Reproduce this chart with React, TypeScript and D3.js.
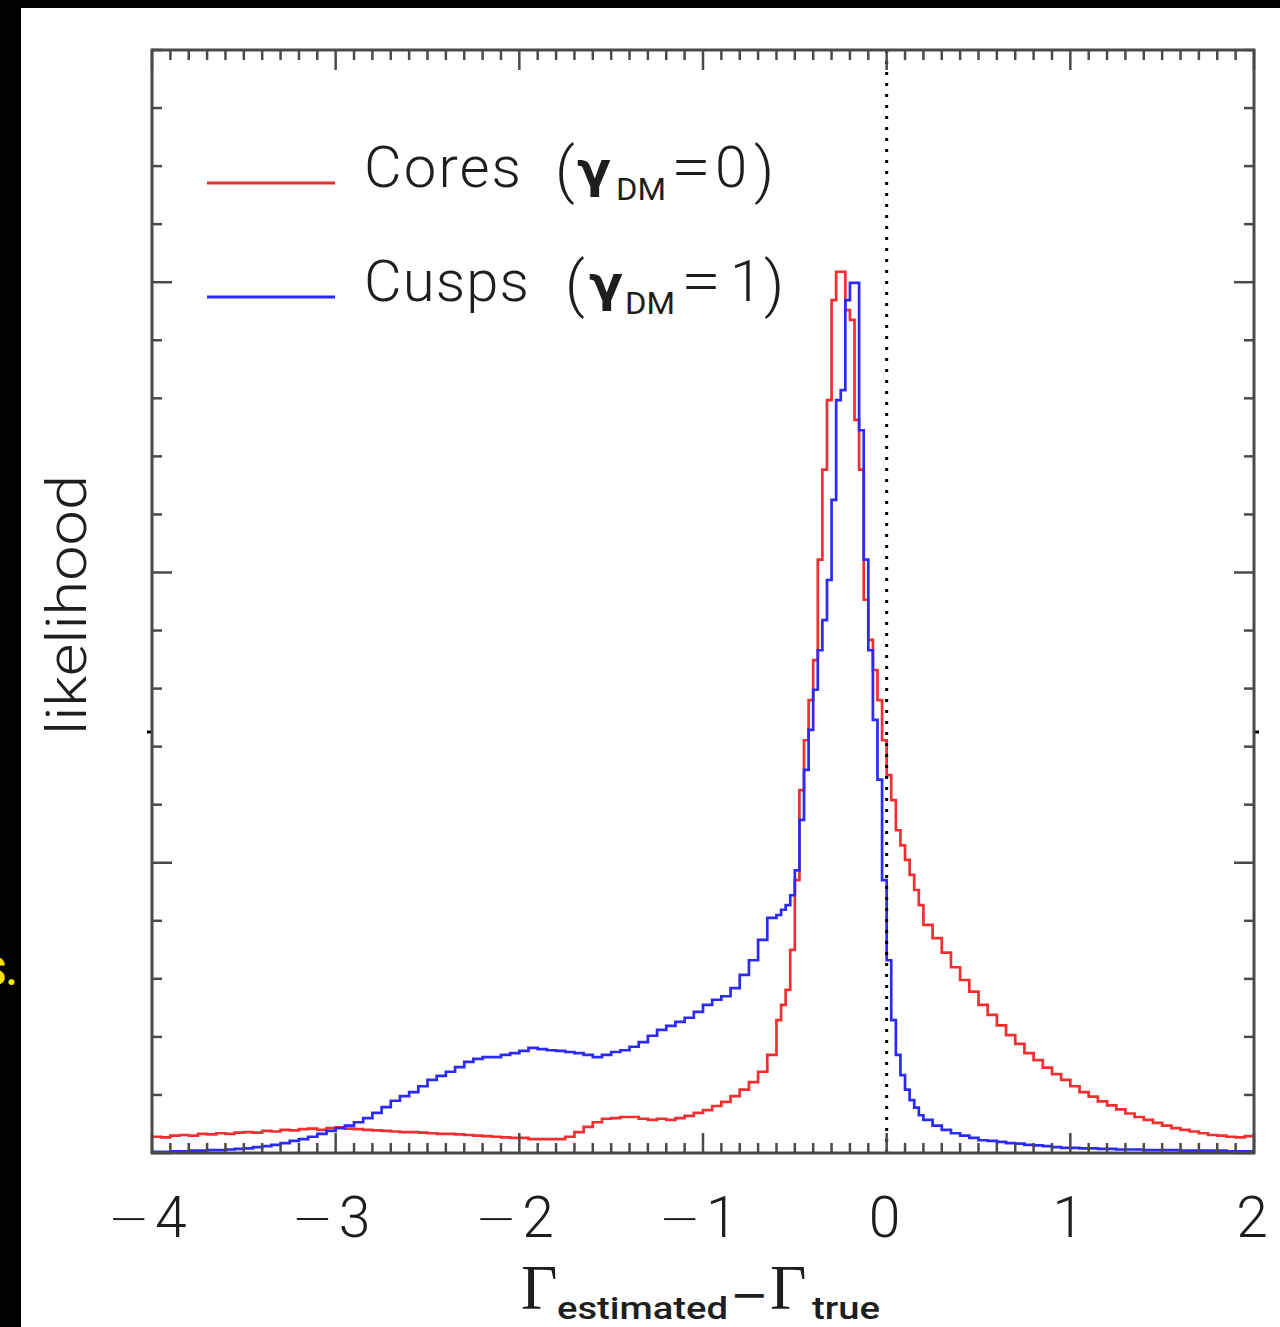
import React from 'react';
import * as d3 from 'd3';

// ---------- data ----------
const X_TICKS = [-4, -3, -2, -1, 0, 1, 2];
const X_TICK_LABELS = ['−4', '−3', '−2', '−1', '0', '1', '2'];
const Y_MAJOR = [0, 5, 10, 15];

// histogram bins: 0.05 wide on [-4,-0.6), 0.025 wide on [-0.6,0.2), 0.05 wide on [0.2,2)
const coresLeft = [
  0.28, 0.27, 0.30, 0.31, 0.30, 0.33, 0.32, 0.34, 0.33, 0.35,
  0.36, 0.35, 0.38, 0.37, 0.40, 0.39, 0.41, 0.42, 0.40, 0.43,
  0.44, 0.42, 0.41, 0.40, 0.39, 0.38, 0.37, 0.36, 0.36, 0.35,
  0.34, 0.33, 0.33, 0.32, 0.31, 0.30, 0.29, 0.28, 0.27, 0.26,
  0.26, 0.24, 0.24, 0.24, 0.24, 0.28, 0.36, 0.45, 0.53, 0.59,
  0.60, 0.62, 0.62, 0.59, 0.57, 0.59, 0.57, 0.60, 0.64, 0.69,
  0.74, 0.81, 0.88, 0.98, 1.09, 1.22, 1.40, 1.69,
];
const coresPeak = [
  2.29, 2.55, 2.81, 3.50, 4.70, 6.25, 7.11, 7.80, 8.49, 10.22,
  11.77, 12.97, 14.69, 15.18, 15.18, 14.52, 14.35, 12.63, 11.77, 9.53,
  8.84, 8.32, 7.80, 7.11, 6.51, 6.08, 5.56, 5.30, 5.05, 4.79,
  4.53, 4.27,
];
const coresRight = [
  3.93, 3.70, 3.45, 3.20, 2.98, 2.78, 2.55, 2.38, 2.20, 2.03,
  1.88, 1.72, 1.60, 1.47, 1.36, 1.26, 1.15, 1.05, 0.97, 0.89,
  0.82, 0.75, 0.68, 0.62, 0.57, 0.52, 0.47, 0.43, 0.40, 0.37,
  0.34, 0.31, 0.30, 0.28, 0.27, 0.29,
];

const cuspsLeft = [
  0.02, 0.02, 0.03, 0.03, 0.04, 0.04, 0.05, 0.05, 0.06, 0.07,
  0.08, 0.10, 0.12, 0.14, 0.17, 0.21, 0.24, 0.28, 0.33, 0.38,
  0.43, 0.47, 0.53, 0.60, 0.69, 0.79, 0.90, 0.98, 1.05, 1.15,
  1.26, 1.33, 1.40, 1.48, 1.57, 1.62, 1.65, 1.65, 1.69, 1.72,
  1.76, 1.81, 1.79, 1.77, 1.76, 1.74, 1.72, 1.69, 1.65, 1.69,
  1.74, 1.77, 1.83, 1.91, 2.02, 2.12, 2.19, 2.26, 2.33, 2.43,
  2.55, 2.64, 2.70, 2.84, 3.07, 3.32, 3.67, 4.05,
];
const cuspsPeak = [
  4.10, 4.19, 4.27, 4.44, 4.87, 5.74, 6.60, 7.29, 7.98, 8.66,
  9.18, 9.87, 11.25, 12.97, 13.14, 14.69, 14.99, 14.99, 12.45, 10.22,
  8.66, 7.46, 6.43, 4.70, 3.32, 2.29, 1.69, 1.34, 1.09, 0.91,
  0.78, 0.65,
];
const cuspsRight = [
  0.57, 0.47, 0.40, 0.34, 0.30, 0.26, 0.22, 0.21, 0.19, 0.17,
  0.16, 0.14, 0.13, 0.12, 0.10, 0.09, 0.09, 0.08, 0.08, 0.07,
  0.07, 0.06, 0.06, 0.06, 0.05, 0.05, 0.05, 0.05, 0.04, 0.04,
  0.04, 0.04, 0.04, 0.03, 0.03, 0.03,
];

const LEGEND = [
  { name: 'Cores', val: '0', color: '#f03030' },
  { name: 'Cusps', val: '1', color: '#2b2bf5' },
];

// ---------- layout ----------
const W = 1280;
const H = 1327;
const L = 152, R = 1254, T = 50, B = 1153;

const binLefts = [
  ...d3.range(68).map((i) => -4 + i * 0.05),
  ...d3.range(32).map((j) => -0.6 + j * 0.025),
  ...d3.range(36).map((k) => 0.2 + k * 0.05),
];

function toPoints(vals: number[]): [number, number][] {
  const pts: [number, number][] = vals.map((v, i) => [binLefts[i], v]);
  pts.push([2, vals[vals.length - 1]]);
  return pts;
}

// legend glyph positions (pixels) per entry
const LEGEND_POS = [
  { ly: 183, by: 187, nameLen: 157, paren: 555, gam: 577, dm: 616, eq: 671, val: 715, close: 754 },
  { ly: 297, by: 301, nameLen: 165, paren: 565, gam: 589, dm: 625, eq: 681, val: 730, close: 764 },
];

export default function App() {
  const x = d3.scaleLinear().domain([-4, 2]).range([L, R]);
  const y = d3.scaleLinear().domain([0, 19]).range([B, T]);
  const line = d3
    .line<[number, number]>()
    .x((d) => x(d[0]))
    .y((d) => y(d[1]))
    .curve(d3.curveStepAfter);

  const cores = toPoints([...coresLeft, ...coresPeak, ...coresRight]);
  const cusps = toPoints([...cuspsLeft, ...cuspsPeak, ...cuspsRight]);

  const xMinor = d3.range(-40, 21).map((i) => i / 10).filter((v) => Math.abs(v - Math.round(v)) > 1e-6);
  const yMinor = d3.range(0, 20).filter((v) => !Y_MAJOR.includes(v));

  const axisColor = '#4a4a4a';
  const textColor = '#1e1e1e';
  const sans = 'Roboto, "Liberation Sans", sans-serif';
  const minusFont = '"DejaVu Sans", sans-serif';
  const serif = '"Liberation Serif", "DejaVu Serif", serif';

  return (
    <svg
      width={W}
      height={H}
      style={{ position: 'absolute', left: 0, top: 0, display: 'block', background: '#fff' }}
    >
      <rect x={0} y={0} width={W} height={H} fill="#fff" />
      {/* black borders of the screenshot */}
      <rect x={0} y={0} width={W} height={8} fill="#000" />
      <rect x={0} y={0} width={21} height={H} fill="#000" />
      <text x={17} y={985} fill="#f2e600" fontFamily={sans} fontSize={38} textAnchor="end" fontWeight={700}>
        S.
      </text>

      {/* data */}
      <path d={line(cores) || ''} fill="none" stroke="#f03030" strokeWidth={2.7} strokeLinejoin="miter" />
      <path d={line(cusps) || ''} fill="none" stroke="#2b2bf5" strokeWidth={2.7} strokeLinejoin="miter" />

      {/* dotted zero line */}
      <line x1={x(0)} x2={x(0)} y1={T} y2={B} stroke="#000" strokeWidth={3} strokeDasharray="3 8" />

      {/* ticks */}
      <g stroke={axisColor} strokeWidth={2.5}>
        {X_TICKS.map((v) => (
          <g key={'xM' + v}>
            <line x1={x(v)} x2={x(v)} y1={B} y2={B - 20} />
            <line x1={x(v)} x2={x(v)} y1={T} y2={T + 20} />
          </g>
        ))}
        {xMinor.map((v) => (
          <g key={'xm' + v}>
            <line x1={x(v)} x2={x(v)} y1={B} y2={B - 10} />
            <line x1={x(v)} x2={x(v)} y1={T} y2={T + 10} />
          </g>
        ))}
        {Y_MAJOR.map((v) => (
          <g key={'yM' + v}>
            <line x1={L} x2={L + 20} y1={y(v)} y2={y(v)} />
            <line x1={R} x2={R - 20} y1={y(v)} y2={y(v)} />
          </g>
        ))}
        {yMinor.map((v) => (
          <g key={'ym' + v}>
            <line x1={L} x2={L + 10} y1={y(v)} y2={y(v)} />
            <line x1={R} x2={R - 10} y1={y(v)} y2={y(v)} />
          </g>
        ))}
      </g>
      {/* small stray marks */}
      <line x1={L - 5} x2={L} y1={732} y2={732} stroke="#000" strokeWidth={3} />
      <line x1={R} x2={R + 5} y1={732} y2={732} stroke="#000" strokeWidth={3} />

      {/* frame */}
      <rect x={L} y={T} width={R - L} height={B - T} fill="none" stroke={axisColor} strokeWidth={3} />

      {/* x tick labels */}
      {X_TICKS.map((v, i) => {
        const lab = X_TICK_LABELS[i];
        const neg = lab.startsWith('−');
        if (!neg) {
          return (
            <text key={'xl' + v} x={x(v) - 2} y={1237} textAnchor="middle" fontFamily={sans}
              fontWeight={300} fontSize={57} fill={textColor}>
              {lab}
            </text>
          );
        }
        return (
          <text key={'xl' + v} x={x(v) - 44} y={1235} fill={textColor}>
            <tspan fontFamily={minusFont} fontWeight={300} fontSize={50}>{lab.slice(0, 1)}</tspan>
            <tspan x={x(v) + 3} y={1237} fontFamily={sans} fontWeight={300} fontSize={57}>{lab.slice(1)}</tspan>
          </text>
        );
      })}

      {/* x label */}
      <g fill={textColor}>
        <text x={521} y={1309} fontFamily={serif} fontSize={63}>Γ</text>
        <text x={557} y={1319} fontFamily={sans} fontSize={31} fontWeight={500} textLength={171} lengthAdjust="spacingAndGlyphs">estimated</text>
        <text x={730} y={1310} fontFamily={minusFont} fontSize={46} fontWeight={400}>−</text>
        <text x={770} y={1309} fontFamily={serif} fontSize={63}>Γ</text>
        <text x={812} y={1319} fontFamily={sans} fontSize={31} fontWeight={500} textLength={68} lengthAdjust="spacingAndGlyphs">true</text>
      </g>

      {/* y label */}
      <text
        transform="translate(86,605) rotate(-90)"
        textAnchor="middle"
        fontFamily={sans}
        fontWeight={300}
        fontSize={56}
        fill={textColor}
        textLength={260}
        lengthAdjust="spacingAndGlyphs"
      >
        likelihood
      </text>

      {/* legend */}
      {LEGEND.map((d, i) => {
        const p = LEGEND_POS[i];
        return (
          <g key={d.name} fill={textColor}>
            <line x1={207} x2={335} y1={p.ly} y2={p.ly} stroke={d.color} strokeWidth={3} />
            <text x={364} y={p.by} fontFamily={sans} fontWeight={300} fontSize={58} textLength={p.nameLen} lengthAdjust="spacing">{d.name}</text>
            <text x={p.paren} y={p.by + 4} fontFamily={sans} fontWeight={300} fontSize={62}>(</text>
            <text x={p.gam} y={p.by} fontFamily='"DejaVu Sans", sans-serif' fontWeight={700} fontSize={50}>γ</text>
            <text x={p.dm} y={p.by + 13} fontFamily={sans} fontWeight={400} fontSize={31} textLength={50} lengthAdjust="spacingAndGlyphs">DM</text>
            <text x={p.eq} y={p.by} fontFamily={sans} fontWeight={300} fontSize={58} textLength={40} lengthAdjust="spacingAndGlyphs">=</text>
            <text x={p.val} y={p.by} fontFamily={sans} fontWeight={300} fontSize={58}>{d.val}</text>
            <text x={p.close} y={p.by + 4} fontFamily={sans} fontWeight={300} fontSize={62}>)</text>
          </g>
        );
      })}
    </svg>
  );
}
